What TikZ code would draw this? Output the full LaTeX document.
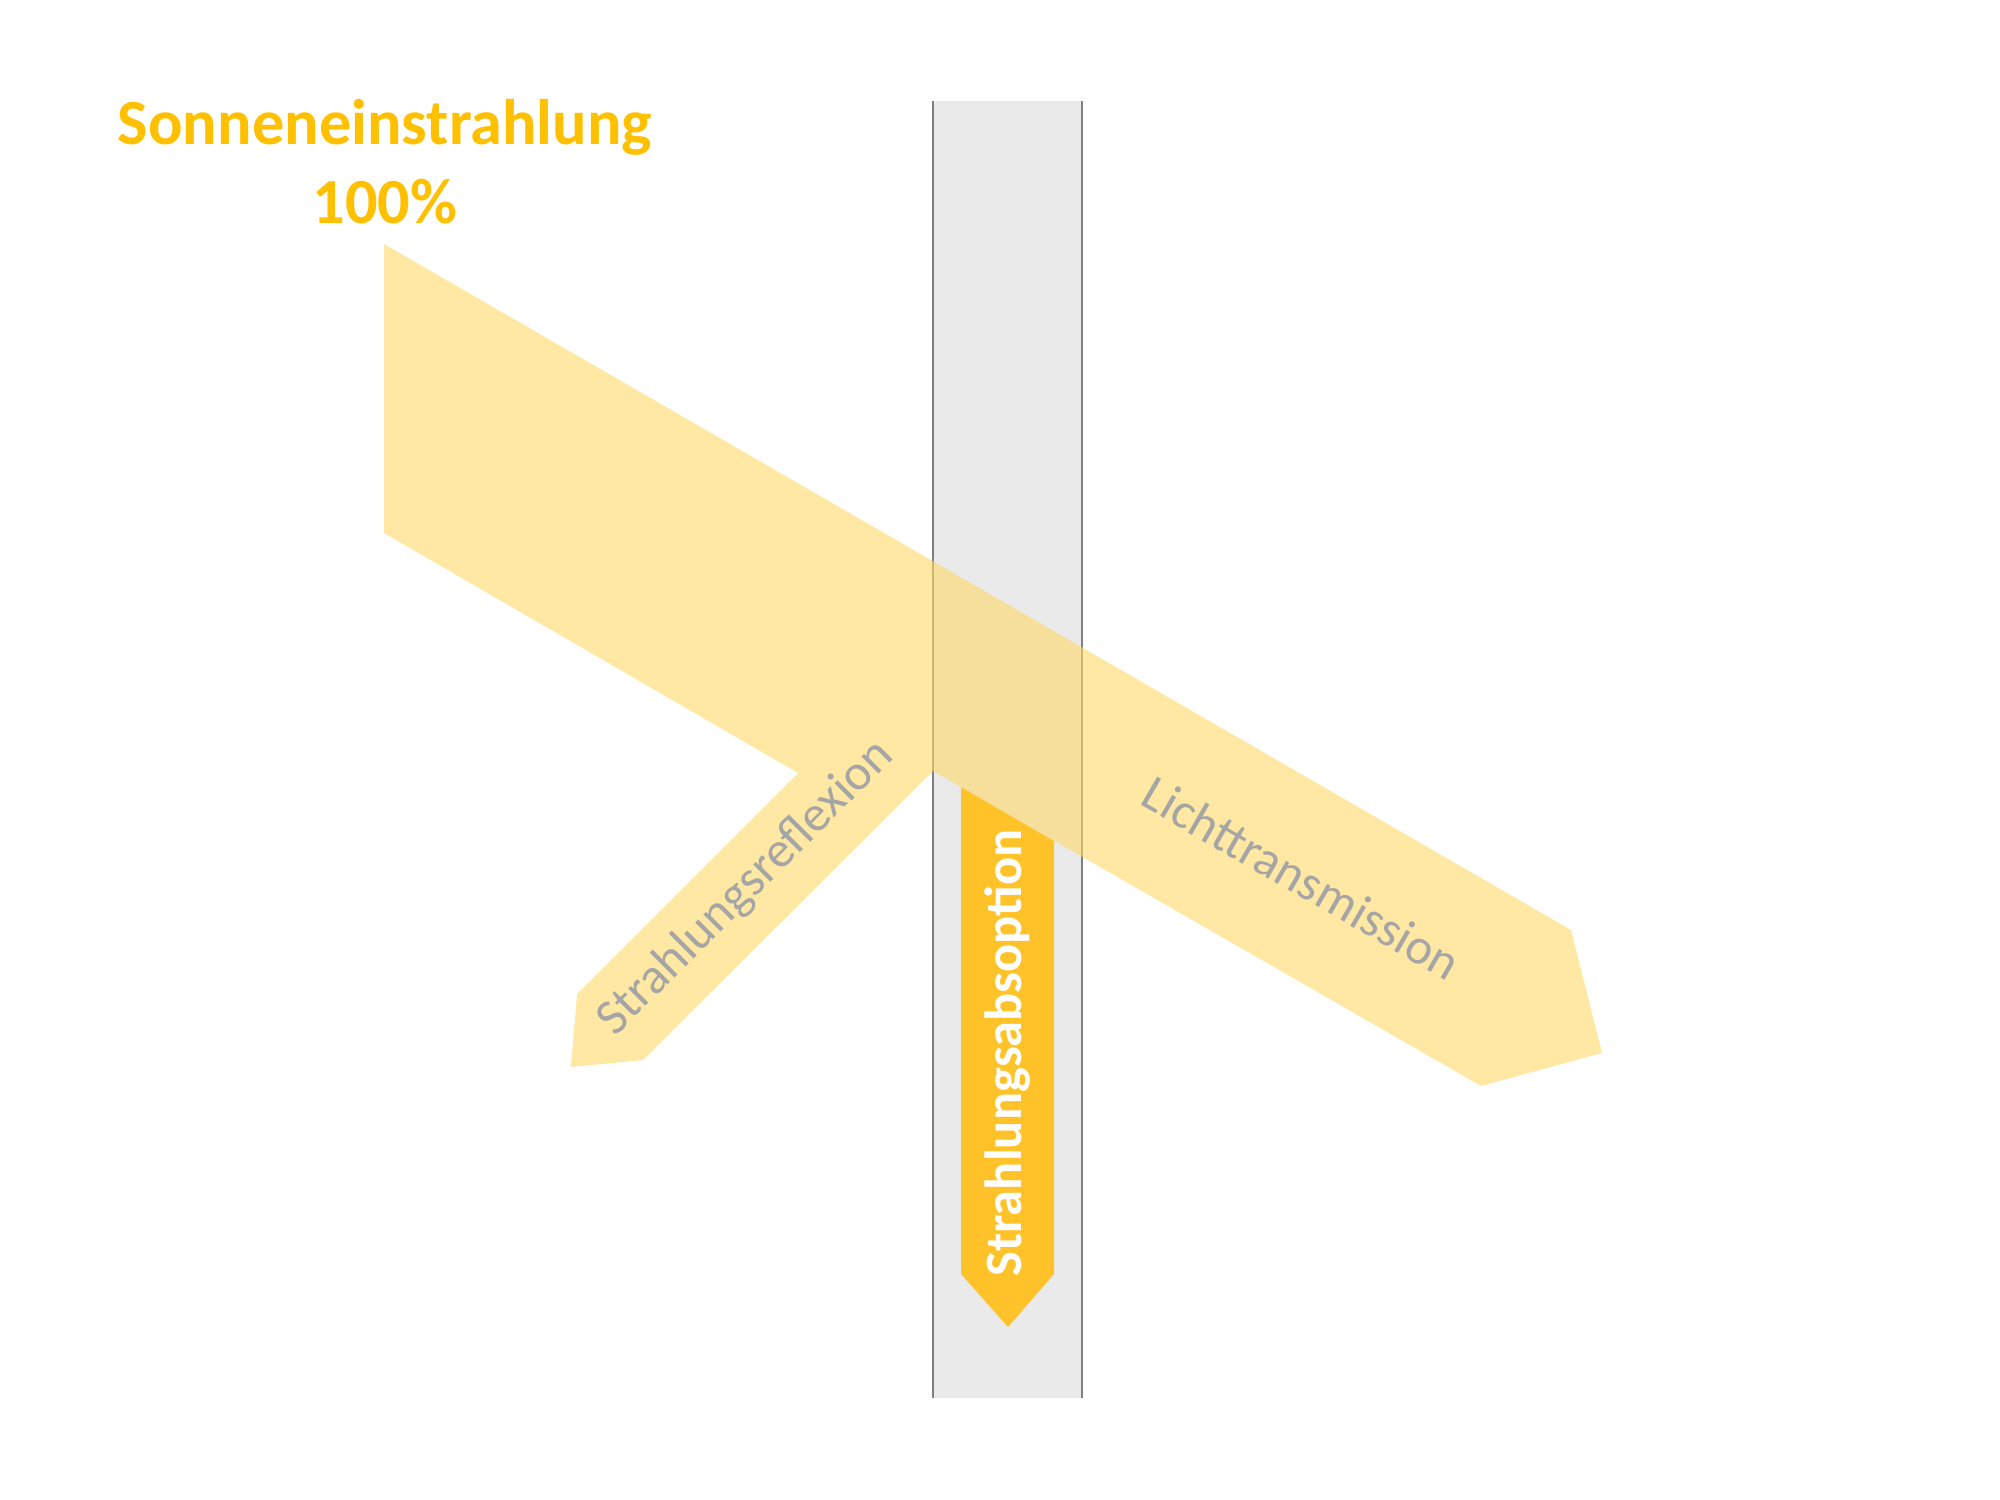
\documentclass[tikz,border=0pt]{standalone}
\usepackage{fontspec}
\setmainfont{Carlito}

\definecolor{sungold}{HTML}{FFC000}
\definecolor{beamyellow}{HTML}{FFD966}
\definecolor{absorbgold}{HTML}{FFC329}
\definecolor{glassgray}{HTML}{EAEAEA}
\definecolor{glassline}{HTML}{7F7F7F}
\definecolor{labelgray}{HTML}{A5A5A5}

\tikzset{
  beam/.style={fill=beamyellow,fill opacity=0.6},
  beamlabel/.style={text=labelgray,inner sep=0pt,font=\fontsize{14.4}{17}\selectfont},
  headline/.style={text=sungold,inner sep=0pt,anchor=base,font=\fontsize{18.3}{22}\selectfont\bfseries},
}

\begin{document}
\begin{tikzpicture}[x=0.01cm,y=-0.01cm]
\useasboundingbox (0,0) rectangle (2000,1500);
% glass pane
\begin{scope}
  \coordinate (g1) at (933,101);
  \coordinate (g2) at (933,1398);
  \coordinate (g3) at (1082,101);
  \coordinate (g4) at (1082,1398);
  \fill [glassgray] (g1) rectangle (g4);
  \draw [glassline,line width=0.4pt] (g1) -- (g2);
  \draw [glassline,line width=0.4pt] (g3) -- (g4);
\end{scope}

% absorption
\begin{scope}
  \fill [absorbgold] (961,787) -- (1054,841) -- (1054,1274) -- (1008,1327) -- (961,1274) -- cycle;
  \node [rotate=90,text=white,inner sep=0pt,font=\fontsize{14.9}{18}\selectfont\bfseries] (absorption) at (1008,1053) {Strahlungsabsoption};
\end{scope}

% incoming beam, reflection and transmission
\begin{scope}
  \fill [beam] (384,244) -- (1571,930) -- (1602,1053) -- (1481,1086) -- (933,771)
    -- (643,1060) -- (571,1067) -- (577,994) -- (798,773) -- (384,533) -- cycle;
  \node [beamlabel,rotate=45] (reflection) at (746,888) {Strahlungsreflexion};
  \node [beamlabel,rotate=-30] (transmission) at (1302,878) {Lichttransmission};
\end{scope}

\node [headline] (sun) at (385,145) {Sonneneinstrahlung};
\node [headline] (percent) at (385,223) {100\%};
\end{tikzpicture}
\end{document}
